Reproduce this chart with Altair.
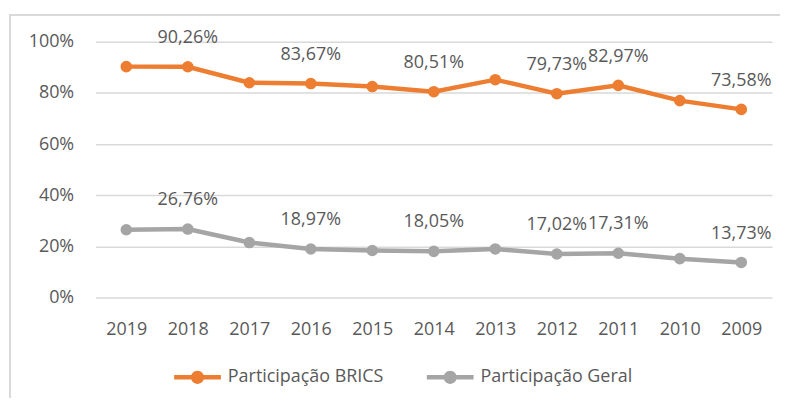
import altair as alt
import pandas as pd

years = ["2019", "2018", "2017", "2016", "2015", "2014", "2013", "2012", "2011", "2010", "2009"]
brics = [90.3, 90.26, 84.0, 83.67, 82.5, 80.51, 85.2, 79.73, 82.97, 77.0, 73.58]
geral = [26.5, 26.76, 21.5, 18.97, 18.4, 18.05, 19.0, 17.02, 17.31, 15.2, 13.73]
labeled_years = ["2018", "2016", "2014", "2012", "2011", "2009"]
series_names = ["Participação BRICS", "Participação Geral"]
series_colors = ["#ED7D31", "#A5A5A5"]

rows = []
for name, vals in zip(series_names, [brics, geral]):
    for y, v in zip(years, vals):
        lab = (f"{v:.2f}".replace(".", ",") + "%") if y in labeled_years else ""
        rows.append({"ano": y, "valor": v / 100, "serie": name, "rotulo": lab})
df = pd.DataFrame(rows)

FONT = "Open Sans"
TXT = "#595959"

legend_path = ("M-1,-0.096L1,-0.096L1,0.096L-1,0.096Z "
               "M-0.28,0A0.28,0.28 0 1,1 0.28,0A0.28,0.28 0 1,1 -0.28,0Z")

x_enc = alt.X("ano:N", sort=years, title=None,
              scale=alt.Scale(type="point", padding=0.5),
              axis=alt.Axis(labelAngle=0, domain=False, ticks=False, tickSize=0,
                            labelPadding=23, grid=False))
y_enc = alt.Y("valor:Q", title=None,
              scale=alt.Scale(domain=[0, 1]),
              axis=alt.Axis(values=[0, 0.2, 0.4, 0.6, 0.8, 1.0], format=".0%",
                            domain=False, ticks=False, tickSize=0, labelPadding=22,
                            grid=True, gridColor="#D9D9D9", gridWidth=1.5))

color_enc = alt.Color("serie:N", scale=alt.Scale(domain=series_names, range=series_colors),
                      legend=alt.Legend(title=None, orient="none", legendX=79, legendY=313.5,
                                        direction="horizontal", symbolType=legend_path,
                                        symbolSize=2209, symbolStrokeWidth=0,
                                        labelOffset=7, columnPadding=43, padding=0,
                                        labelFont=FONT, labelFontSize=18, labelColor=TXT))

base = alt.Chart(df).encode(x=x_enc, y=y_enc, color=color_enc)

lines = base.mark_line(strokeWidth=4.5)
points = base.mark_point(filled=True, size=135, opacity=1)

texts = alt.Chart(df).mark_text(font=FONT, fontSize=18, color=TXT, baseline="middle", dy=-29).encode(
    x=x_enc, y=y_enc, text="rotulo:N"
)

border = alt.Chart(df).mark_rect(
    fill="white", fillOpacity=0, stroke="#D9D9D9", strokeWidth=1.5
).encode(x=alt.value(-86), x2=alt.value(720), y=alt.value(-27), y2=alt.value(370))

chart = alt.layer(border, lines, points, texts).properties(
    width=680, height=257,
    autosize=alt.AutoSizeParams(type="none"),
    padding={"left": 88, "top": 33, "right": 8, "bottom": 100},
    background="white",
).configure_view(stroke=None).configure_axis(
    labelFont=FONT, labelFontSize=18, labelColor=TXT
)

chart.save("out.html", embed_options={"renderer": "svg", "actions": False})
